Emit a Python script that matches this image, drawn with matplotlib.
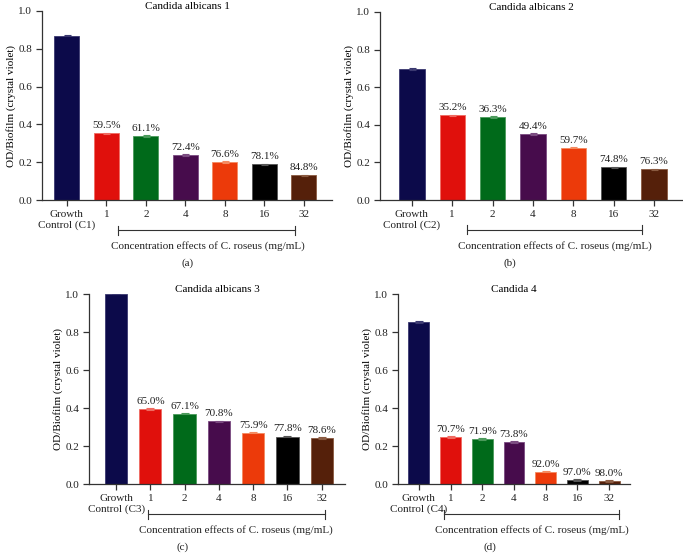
import matplotlib.pyplot as plt
from matplotlib.transforms import blended_transform_factory

plt.rcParams['font.family'] = ['Liberation Serif', 'DejaVu Serif']
plt.rcParams['font.size'] = 8

# -----------------------------
# Data
# -----------------------------
concentrations = ['1', '2', '4', '8', '16', '32']
titles = ['Candida albicans 1', 'Candida albicans 2', 'Candida albicans 3', 'Candida 4']
control_names = ['Growth\nControl (C1)', 'Growth\nControl (C2)',
                 'Growth\nControl (C3)', 'Growth\nControl (C4)']
panel_tags = ['(a)', '(b)', '(c)', '(d)']

od_a = [0.870, 0.352, 0.338, 0.238, 0.202, 0.188, 0.131]
od_b = [0.697, 0.450, 0.442, 0.350, 0.279, 0.173, 0.163]
od_c = [1.000, 0.395, 0.370, 0.330, 0.270, 0.250, 0.242]
od_d = [0.853, 0.248, 0.238, 0.222, 0.065, 0.022, 0.015]

err_a = [0.004, 0.004, 0.004, 0.004, 0.004, 0.004, 0.004]
err_b = [0.004, 0.004, 0.004, 0.004, 0.004, 0.004, 0.004]
err_c = [0.002, 0.004, 0.004, 0.004, 0.004, 0.004, 0.004]
err_d = [0.004, 0.004, 0.004, 0.004, 0.004, 0.004, 0.004]

pct_a = ['59.5%', '61.1%', '72.4%', '76.6%', '78.1%', '84.8%']
pct_b = ['35.2%', '36.3%', '49.4%', '59.7%', '74.8%', '76.3%']
pct_c = ['65.0%', '67.1%', '70.8%', '75.9%', '77.8%', '78.6%']
pct_d = ['70.7%', '71.9%', '73.8%', '92.0%', '97.0%', '98.0%']

bar_colors = ['#0c0a4a', '#e0100c', '#006a1a', '#470c4c', '#ec3a0a', '#000000', '#55200a']
cap_colors = ['#3a3870', '#f06a60', '#4a9a5a', '#7a4a80', '#f48a60', '#555555', '#8a5a40']

# -----------------------------
# Layout per panel
# -----------------------------
panels = [
    dict(rect=[0.0615, 0.6396, 0.4245, 0.3406], xlim=(-0.63, 6.71), width=0.63,
         bracket=(1.29, 5.77), label_x=3.57, tag_xy=(0.274, 0.511),
         od=od_a, err=err_a, pct=pct_a),
    dict(rect=[0.5564, 0.6396, 0.4421, 0.3388], xlim=(-0.79, 6.69), width=0.63,
         bracket=(1.36, 5.70), label_x=3.55, tag_xy=(0.747, 0.511),
         od=od_b, err=err_b, pct=pct_b),
    dict(rect=[0.1303, 0.1279, 0.3748, 0.3423], xlim=(-0.79, 6.68), width=0.65,
         bracket=(0.93, 6.10), label_x=3.50, tag_xy=(0.268, 0.0),
         od=od_c, err=err_c, pct=pct_c),
    dict(rect=[0.5827, 0.1279, 0.3397, 0.3423], xlim=(-0.66, 6.66), width=0.66,
         bracket=(0.79, 6.30), label_x=3.55, tag_xy=(0.717, 0.0),
         od=od_d, err=err_d, pct=pct_d),
]

fig = plt.figure(figsize=(6.83, 5.55), dpi=100)

for i, p in enumerate(panels):
    ax = fig.add_axes(p['rect'])
    x = list(range(len(p['od'])))
    ax.bar(x, p['od'], width=p['width'], color=bar_colors,
           edgecolor=cap_colors, linewidth=0.6, zorder=2)
    for xi, v, e, cc in zip(x, p['od'], p['err'], cap_colors):
        ax.errorbar(xi, v, yerr=e, fmt='none', ecolor=cc, elinewidth=0.8,
                    capsize=p['width'] * 4, capthick=0.8, zorder=3)
    for xi, v, t in zip(x[1:], p['od'][1:], p['pct']):
        ax.text(xi, v + 0.016, t, ha='center', va='bottom', fontsize=8, color='#222222')

    ax.set_xlim(*p['xlim'])
    ax.set_ylim(0, 1.0)
    ax.set_yticks([0.0, 0.2, 0.4, 0.6, 0.8, 1.0])
    ax.set_yticklabels(['0.0', '0.2', '0.4', '0.6', '0.8', '1.0'])
    ax.set_xticks(x)
    ax.set_xticklabels([control_names[i]] + concentrations)
    ax.set_ylabel('OD/Biofilm (crystal violet)', labelpad=1.5)
    ax.set_title(titles[i], fontsize=8, pad=1.5)

    for s in ['top', 'right']:
        ax.spines[s].set_visible(False)
    for s in ['left', 'bottom']:
        ax.spines[s].set_color('#333333')
        ax.spines[s].set_linewidth(0.9)
    ax.tick_params(direction='out', length=4, width=0.9, color='#333333',
                   labelcolor='#222222', pad=3)

    # bracket under the concentration ticks
    trans = blended_transform_factory(ax.transData, ax.transAxes)
    b0, b1 = p['bracket']
    ax.plot([b0, b1], [-0.159, -0.159], color='#333333', lw=0.8,
            transform=trans, clip_on=False)
    for bx in (b0, b1):
        ax.plot([bx, bx], [-0.135, -0.183], color='#333333', lw=0.8,
                transform=trans, clip_on=False)
    ax.text(p['label_x'], -0.243, 'Concentration effects of C. roseus (mg/mL)',
            ha='center', va='center', transform=trans, color='#222222')

    fig.text(p['tag_xy'][0], p['tag_xy'][1] + 0.006, panel_tags[i], ha='center',
             va='bottom', color='#222222')

plt.savefig('out.png', dpi=100)
